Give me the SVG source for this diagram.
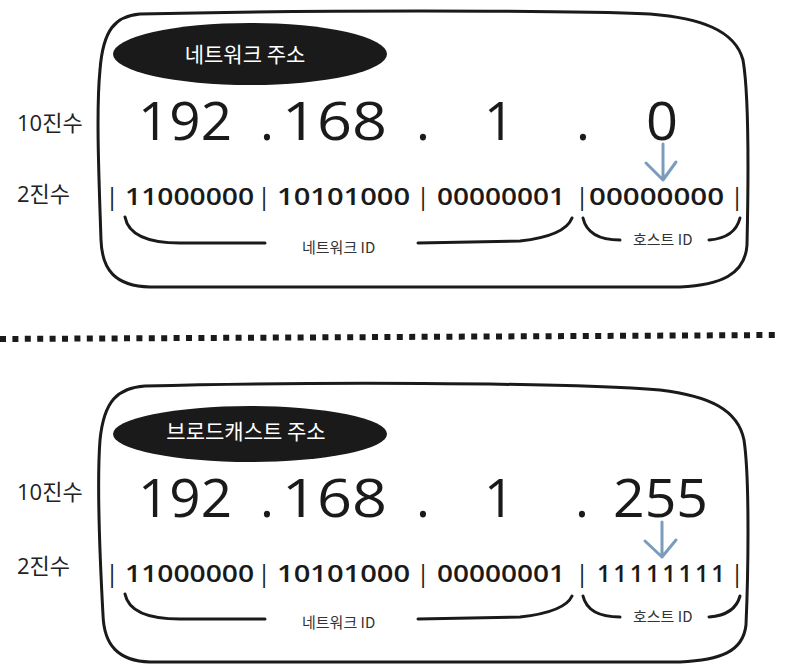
<svg xmlns="http://www.w3.org/2000/svg" width="800" height="672" viewBox="0 0 800 672">
<style>
.box{fill:none;stroke:#1a1a1a;stroke-width:3;stroke-linejoin:round}
.pill{fill:#1a1a1a}
.pilltxt{font-family:"Noto Sans CJK KR","Noto Sans",sans-serif;font-size:21px;font-weight:400;fill:#ffffff;text-anchor:middle}
.side{font-family:"Open Sans","Noto Sans CJK KR",sans-serif;font-size:22px;fill:#222}
.big{font-family:"Open Sans","Noto Sans",sans-serif;font-size:53px;font-weight:500;fill:#1a1a1a}
.bin{font-family:"Open Sans","Noto Sans",sans-serif;font-size:24px;font-weight:600;fill:#1a1a1a}
.sep{font-family:"Open Sans","Noto Sans",sans-serif;font-size:24px;fill:#1a1a1a;text-anchor:middle}
.lbl{font-family:"Noto Sans CJK KR","Open Sans",sans-serif;font-size:15px;fill:#333}
.brace{fill:none;stroke:#1a1a1a;stroke-width:3;stroke-linecap:round}
.arrow{fill:none;stroke:#7b9cbc;stroke-width:3;stroke-linecap:round;stroke-linejoin:round}
.dots{stroke:#1a1a1a;stroke-width:6;stroke-dasharray:6 6.4}
</style>

<g id="panel-network">
  <path class="box" d="M140,14 C300,10 560,10 650,14 C700,18 735,30 743,60 C750,100 748,200 747,245 C745,275 720,285 680,287 L150,287 C115,286 102,270 101,240 C99,180 96,110 100,70 C103,30 115,16 140,14 Z"/>
  <ellipse class="pill" cx="250" cy="54" rx="137" ry="31"/>
  <text class="pilltxt" x="245" y="62">네트워크 주소</text>
  <text class="side" x="17" y="131">10진수</text>
  <text class="side" x="17" y="202">2진수</text>
  <text class="big" x="138" y="140" textLength="94" lengthAdjust="spacingAndGlyphs">192</text>
  <text class="big" x="260" y="140">.</text>
  <text class="big" x="282" y="140" textLength="105" lengthAdjust="spacingAndGlyphs">168</text>
  <text class="big" x="416" y="140">.</text>
  <text class="big" x="484" y="140">1</text>
  <text class="big" x="576" y="140">.</text>
  <text class="big" x="646" y="140" textLength="32" lengthAdjust="spacingAndGlyphs">0</text>
  <text class="sep" x="112" y="205">|</text>
  <text class="bin" x="125" y="205" textLength="129" lengthAdjust="spacingAndGlyphs">11000000</text>
  <text class="sep" x="264" y="205">|</text>
  <text class="bin" x="277" y="205" textLength="133" lengthAdjust="spacingAndGlyphs">10101000</text>
  <text class="sep" x="423" y="205">|</text>
  <text class="bin" x="437" y="205" textLength="128" lengthAdjust="spacingAndGlyphs">00000001</text>
  <text class="sep" x="582" y="205">|</text>
  <text class="bin" x="589" y="205" textLength="135" lengthAdjust="spacingAndGlyphs">00000000</text>
  <text class="sep" x="737" y="205">|</text>
  <text class="lbl" x="302" y="253">네트워크 ID</text>
  <text class="lbl" x="633" y="245">호스트 ID</text>
</g>

<g id="separator">
  <line class="dots" x1="0" y1="339" x2="780" y2="335"/>
</g>

<g id="panel-broadcast">
  <path class="box" d="M145,386 C300,382 560,382 660,390 C710,396 738,410 744,440 C750,480 748,580 746,625 C743,652 720,660 680,662 L150,662 C118,661 104,645 103,615 C100,560 97,480 100,440 C104,400 118,388 145,386 Z"/>
  <ellipse class="pill" cx="250" cy="434" rx="137" ry="28"/>
  <text class="pilltxt" x="246" y="439">브로드캐스트 주소</text>
  <text class="side" x="17" y="500">10진수</text>
  <text class="side" x="17" y="574">2진수</text>
  <text class="big" x="138" y="517" textLength="94" lengthAdjust="spacingAndGlyphs">192</text>
  <text class="big" x="260" y="517">.</text>
  <text class="big" x="282" y="517" textLength="105" lengthAdjust="spacingAndGlyphs">168</text>
  <text class="big" x="416" y="517">.</text>
  <text class="big" x="484" y="517">1</text>
  <text class="big" x="575" y="517">.</text>
  <text class="big" x="613" y="517" textLength="95" lengthAdjust="spacingAndGlyphs">255</text>
  <text class="sep" x="112" y="582">|</text>
  <text class="bin" x="125" y="582" textLength="129" lengthAdjust="spacingAndGlyphs">11000000</text>
  <text class="sep" x="264" y="582">|</text>
  <text class="bin" x="277" y="582" textLength="133" lengthAdjust="spacingAndGlyphs">10101000</text>
  <text class="sep" x="423" y="582">|</text>
  <text class="bin" x="437" y="582" textLength="128" lengthAdjust="spacingAndGlyphs">00000001</text>
  <text class="sep" x="582" y="582">|</text>
  <text class="bin" x="597" y="582" textLength="128">11111111</text>
  <text class="sep" x="737" y="582">|</text>
  <text class="lbl" x="302" y="628">네트워크 ID</text>
  <text class="lbl" x="633" y="622">호스트 ID</text>
</g>

<g id="connectors">
  <path class="brace" d="M125,217 Q130,243 180,243 L265,243"/>
  <path class="brace" d="M418,243 L520,241 Q565,236 572,218"/>
  <path class="brace" d="M583,218 Q588,240 620,240"/>
  <path class="brace" d="M709,240 Q735,238 740,218"/>
  <path class="arrow" d="M663,144 L663,180 M646,163 L663,180 L676,162"/>

  <path class="brace" d="M125,594 Q130,619 180,619 L265,619"/>
  <path class="brace" d="M418,619 L520,617 Q565,612 572,596"/>
  <path class="brace" d="M583,596 Q588,617 620,617"/>
  <path class="brace" d="M709,617 Q735,615 740,596"/>
  <path class="arrow" d="M662,522 L662,557 M645,541 L662,557 L676,540"/>
</g>
</svg>
